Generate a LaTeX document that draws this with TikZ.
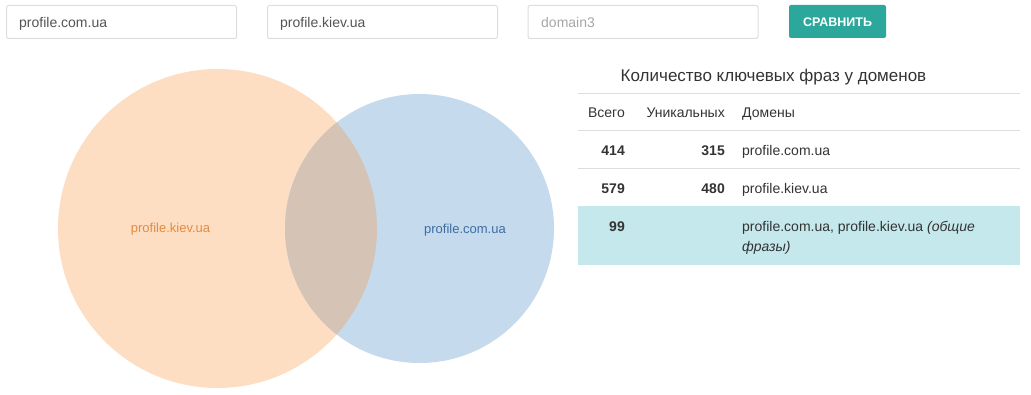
\documentclass[tikz,border=0pt]{standalone}
\usepackage{fontspec}
\setmainfont{Liberation Sans}
\definecolor{peach}{HTML}{FDDEC2}
\definecolor{sky}{HTML}{C5DAEC}
\definecolor{mixed}{HTML}{D5C4B5}
\definecolor{peachtext}{HTML}{E28B42}
\definecolor{skytext}{HTML}{3D6DA0}
\definecolor{teal}{HTML}{2BA89B}
\definecolor{hilite}{HTML}{C4E8EC}
\definecolor{rule}{HTML}{DDDDDD}
\definecolor{ink}{HTML}{333333}
\begin{document}
\begin{tikzpicture}[x=1pt,y=-1pt,
    field/.style={draw=rule,line width=1pt,rounded corners=2pt,minimum height=33pt,inner sep=0pt},
    txt/.style={anchor=base west,inner sep=0pt,text=ink,font=\fontsize{14}{17}\selectfont},
    num/.style={txt,anchor=base east,font=\fontsize{14}{17}\selectfont\bfseries}]
    \useasboundingbox (0,0) rectangle (1031,395);
    % domain inputs and button
    \node[field,minimum width=230pt] (in1) at (121.5,22) {};
    \node[field,minimum width=230pt] (in2) at (382.5,22) {};
    \node[field,minimum width=230pt] (in3) at (643,22) {};
    \node[fill=teal,rounded corners=2pt,minimum width=97pt,minimum height=33pt,inner sep=0pt] (go) at (837.5,21.5) {};
    \node[txt,text=black!67] (t1) at (19,27.5) {profile.com.ua};
    \node[txt,text=black!67] (t2) at (280,27.5) {profile.kiev.ua};
    \node[txt,text=black!35] (t3) at (541,27.5) {domain3};
    \node[anchor=base,inner sep=0pt,text=white,font=\fontsize{12.5}{15}\selectfont\bfseries] (gotext) at (837.5,26.5) {СРАВНИТЬ};
    % venn
    \fill[peach] (217.5,228.5) circle (159.5);
    \fill[sky] (419.5,228.5) circle (134.5);
    \begin{scope}
        \clip (217.5,228.5) circle (159.5);
        \fill[mixed] (419.5,228.5) circle (134.5);
    \end{scope}
    \node[anchor=base,inner sep=0pt,text=peachtext,font=\fontsize{13}{15}\selectfont] (kiev) at (170.5,233) {profile.kiev.ua};
    \node[anchor=base,inner sep=0pt,text=skytext,font=\fontsize{13}{15}\selectfont] (com) at (465,233.5) {profile.com.ua};
    % table
    \node[anchor=base,inner sep=0pt,text=ink,font=\fontsize{17}{20}\selectfont] (title) at (773.5,81.5) {Количество ключевых фраз у доменов};
    \fill[hilite] (578,206) rectangle (1020,265);
    \draw[rule] (578,93) -- (1020,93);
    \draw[rule] (578,130.5) -- (1020,130.5);
    \draw[rule] (578,168) -- (1020,168);
    \node[txt,anchor=base east] (h1) at (625,117.5) {Всего};
    \node[txt,anchor=base east] (h2) at (725,117.5) {Уникальных};
    \node[txt] (h3) at (742,117.5) {Домены};
    \node[num] (a1) at (625,156) {414};
    \node[num] (b1) at (725,156) {315};
    \node[txt] (c1) at (742,156) {profile.com.ua};
    \node[num] (a2) at (625,194) {579};
    \node[num] (b2) at (725,194) {480};
    \node[txt] (c2) at (742,194) {profile.kiev.ua};
    \node[num] (a3) at (625,232) {99};
    \node[txt] (c3) at (742,232) {profile.com.ua, profile.kiev.ua \textit{(общие}};
    \node[txt] (c3b) at (742,251.5) {\textit{фразы)}};
\end{tikzpicture}
\end{document}
